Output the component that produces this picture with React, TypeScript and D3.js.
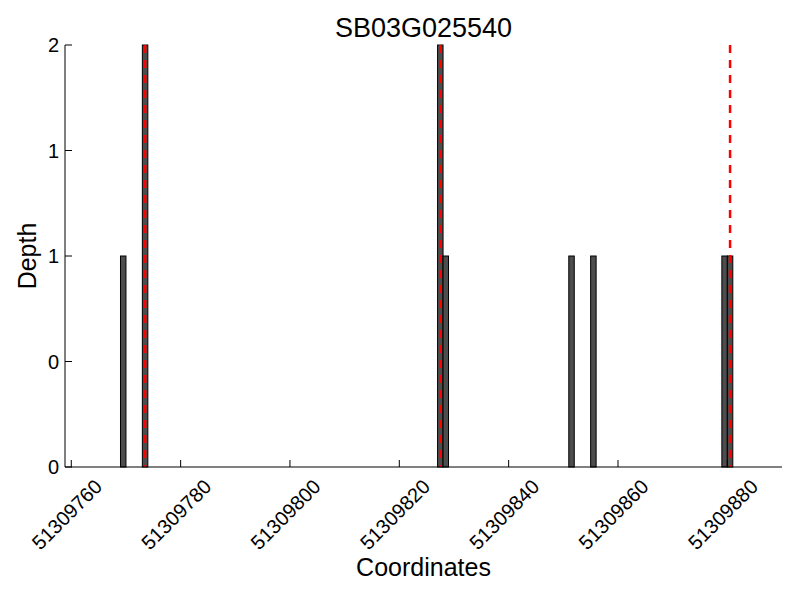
import React from "react";
import * as d3 from "d3";

const title = "SB03G025540";
const positions = [51309769, 51309773, 51309827, 51309828, 51309851, 51309855, 51309879, 51309880];
const depths = [1, 2, 2, 1, 1, 1, 1, 1];
const markers = [51309773.5, 51309827.5, 51309880.5];
const xTicks = [51309760, 51309780, 51309800, 51309820, 51309840, 51309860, 51309880];
const yTicks = [0, 0.5, 1, 1.5, 2];

export default function App() {
    const width = 800, height = 600;
    const left = 65, right = 782, top = 45, bottom = 467;

    const x = d3.scaleLinear().domain([51309758.85, 51309890]).range([left, right]);
    const y = d3.scaleLinear().domain([0, 2]).range([bottom, top]);
    const font = "'Liberation Sans', Arial, sans-serif";

    return (
        <svg width={width} height={height} style={{ position: "absolute", left: 0, top: 0, fontFamily: font }}>
            <rect width={width} height={height} fill="#fff" />
            {positions.map((p, i) => (
                <rect key={i}
                    x={x(p)} y={y(depths[i])}
                    width={x(p + 1) - x(p)} height={y(0) - y(depths[i])}
                    fill="#4d4d4d" stroke="#000" strokeWidth={1} />
            ))}
            {markers.map((m, i) => (
                <line key={i} x1={x(m)} x2={x(m)} y1={y(2)} y2={y(0)}
                    stroke="#f00" strokeWidth={2.5} strokeDasharray="8,7" />
            ))}
            <line x1={left} x2={left} y1={top} y2={bottom} stroke="#000" />
            <line x1={left} x2={right} y1={bottom} y2={bottom} stroke="#000" />
            {yTicks.map((t, i) => (
                <g key={i}>
                    <line x1={left} x2={left + 7} y1={y(t)} y2={y(t)} stroke="#000" />
                    <text x={left - 6} y={y(t)} dy="0.35em" textAnchor="end" fontSize={20}>{Math.floor(t)}</text>
                </g>
            ))}
            {xTicks.map((t, i) => (
                <g key={i}>
                    <line x1={x(t)} x2={x(t)} y1={bottom} y2={bottom - 7} stroke="#000" />
                    <text transform={`translate(${x(t) + 32},${bottom + 21}) rotate(-45)`}
                        textAnchor="end" fontSize={20}>{t}</text>
                </g>
            ))}
            <text x={(left + right) / 2} y={37} textAnchor="middle" fontSize={27}>{title}</text>
            <text x={(left + right) / 2} y={576} textAnchor="middle" fontSize={25}>Coordinates</text>
            <text transform={`translate(36,${(top + bottom) / 2}) rotate(-90)`} textAnchor="middle" fontSize={25}>Depth</text>
        </svg>
    );
}
